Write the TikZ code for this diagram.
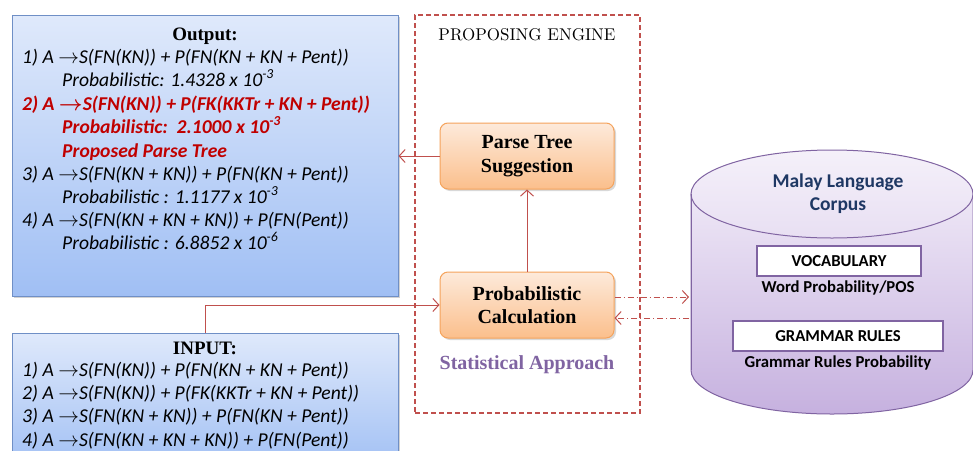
\documentclass[tikz,border=0pt]{standalone}
\usepackage{fontspec}
\setmainfont{lmroman10-regular.otf}[BoldFont=lmroman10-bold.otf, ItalicFont=lmroman10-italic.otf]
\newfontfamily\carlito{Carlito}
\newfontfamily\headserif{Liberation Serif}
\usetikzlibrary{arrows.meta,shadows}

\definecolor{boxblue}{HTML}{6F8FC6}
\definecolor{bluetop}{HTML}{DFE9FB}
\definecolor{bluebot}{HTML}{A0BFF4}
\definecolor{orgline}{HTML}{F5A35C}
\definecolor{orgtop}{HTML}{FDEADB}
\definecolor{orgbot}{HTML}{FBBF8C}
\definecolor{linkred}{HTML}{C0504D}
\definecolor{hotred}{HTML}{C00000}
\definecolor{violet}{HTML}{8064A2}
\definecolor{cyltop}{HTML}{EEE7F6}
\definecolor{cylbot}{HTML}{C6B1DF}
\definecolor{navy}{HTML}{1F3864}

\tikzset{
  listbox/.style={draw=boxblue, line width=1pt, top color=bluetop, bottom color=bluebot,
    minimum width=386pt, inner sep=0pt,
    drop shadow={opacity=0.35, shadow xshift=2pt, shadow yshift=-2pt}},
  stepbox/.style={draw=orgline, line width=1pt, rounded corners=8pt,
    top color=orgtop, bottom color=orgbot, minimum width=174pt, minimum height=66pt,
    align=center, font=\headserif\bfseries\fontsize{20}{23.5}\selectfont,
    drop shadow={opacity=0.3, shadow xshift=2pt, shadow yshift=-2pt}},
  ruleline/.style={anchor=base west, inner sep=0pt, text height=13pt, text depth=4pt,
    font=\carlito\itshape\fontsize{19.6}{22}\selectfont},
  boldrule/.style={ruleline, text=hotred, font=\carlito\itshape\bfseries\fontsize{19.6}{22}\selectfont},
  boxtitle/.style={inner sep=0pt, anchor=base, font=\headserif\bfseries\fontsize{19}{22}\selectfont},
  link/.style={draw=linkred, line width=1pt, -{Straight Barb[length=6pt,width=13pt]}},
  dashdot/.style={link, dash pattern=on 6pt off 3pt on 1pt off 3pt},
  tagbox/.style={draw=violet, line width=2pt, fill=white, inner sep=0pt,
    minimum height=30pt, font=\carlito\bfseries\fontsize{16.7}{18}\selectfont},
  tagnote/.style={inner sep=0pt, anchor=base, font=\carlito\bfseries\fontsize{16.7}{18}\selectfont},
}

\begin{document}
\begin{tikzpicture}[x=1pt, y=-1pt]
\useasboundingbox (0,0) rectangle (973,450);
\clip (0,0) rectangle (973,450);
\fill[white] (0,0) rectangle (973,450);

% proposing engine frame
\node[draw=linkred, line width=1.1pt, dash pattern=on 5pt off 3pt,
      minimum width=225pt, minimum height=398pt, inner sep=0pt] (engine) at (527.5,214) {};
\node[inner sep=0pt, anchor=base, font=\fontsize{17}{20}\selectfont] (enginetitle) at (527,40) {PROPOSING ENGINE};

% output list
\node[listbox, minimum height=281pt] (outbox) at (205,155.5) {};
\node[boxtitle] (outtitle) at (205,40) {Output:};
\node[ruleline] (o1) at (22,63) {1) A $\rightarrow$S(FN(KN)) + P(FN(KN + KN + Pent))};
\node[ruleline] (o1p) at (62,86) {Probabilistic: 1.4328 x 10\textsuperscript{-3}};
\node[boldrule] (o2) at (22,110) {2) A {\boldmath$\rightarrow$}S(FN(KN)) + P(FK(KKTr + KN + Pent))};
\node[boldrule] (o2p) at (62,133) {Probabilistic:\ \ 2.1000 x 10\textsuperscript{-3}};
\node[boldrule] (o2t) at (62,157) {Proposed Parse Tree};
\node[ruleline] (o3) at (22,180) {3) A $\rightarrow$S(FN(KN + KN)) + P(FN(KN + Pent))};
\node[ruleline] (o3p) at (62,203) {Probabilistic : 1.1177 x 10\textsuperscript{-3}};
\node[ruleline] (o4) at (22,226) {4) A $\rightarrow$S(FN(KN + KN + KN)) + P(FN(Pent))};
\node[ruleline] (o4p) at (62,249) {Probabilistic : 6.8852 x 10\textsuperscript{-6}};

% input list
\node[listbox, minimum height=137pt] (inbox) at (205,401.5) {};
\node[boxtitle] (intitle) at (205,354) {INPUT:};
\node[ruleline] (i1) at (22,376) {1) A $\rightarrow$S(FN(KN)) + P(FN(KN + KN + Pent))};
\node[ruleline] (i2) at (22,399) {2) A $\rightarrow$S(FN(KN)) + P(FK(KKTr + KN + Pent))};
\node[ruleline] (i3) at (22,422) {3) A $\rightarrow$S(FN(KN + KN)) + P(FN(KN + Pent))};
\node[ruleline] (i4) at (22,446) {4) A $\rightarrow$S(FN(KN + KN + KN)) + P(FN(Pent))};

% engine steps
\node[stepbox] (suggest) at (527,156) {Parse Tree\\Suggestion};
\node[stepbox] (calc) at (527,305) {Probabilistic\\Calculation};
\node[inner sep=0pt, anchor=base, text=violet, font=\headserif\bfseries\fontsize{20}{22}\selectfont] (approach) at (527,369) {Statistical Approach};

% corpus cylinder
\coordinate (cylc) at (832,194);
\shade[top color=cyltop, bottom color=cylbot, draw=violet, line width=1pt]
  (691,194) -- (691,370) arc[start angle=180, end angle=360, x radius=141pt, y radius=44pt]
  -- (973,194) -- cycle;
\shade[top color=cyltop!60!white, bottom color=cyltop!85!cylbot, draw=violet, line width=1pt]
  (cylc) ellipse[x radius=141pt, y radius=44pt];
\draw[violet, line width=1pt] (691,194) -- (691,370);
\node[inner sep=0pt, align=center, text=navy, font=\carlito\bfseries\fontsize{19.5}{23}\selectfont] (corpus) at (838,194) {Malay Language\\Corpus};
\node[tagbox, minimum width=164pt] (vocab) at (839,261) {VOCABULARY};
\node[tagnote] (vocabnote) at (838,292) {Word Probability/POS};
\node[tagbox, minimum width=210pt] (grammar) at (838,336) {GRAMMAR RULES};
\node[tagnote] (grammarnote) at (838,367) {Grammar Rules Probability};
\coordinate (corpusin) at (689,297);
\coordinate (corpusout) at (689,318);

% connectors
\draw[link] (suggest.west) -- (outbox.east |- suggest.west);
\draw[link] (calc.north) -- (suggest.south);
\draw[link] (inbox.north) |- (calc.west);
\draw[dashdot] (calc.east |- corpusin) -- (corpusin);
\draw[dashdot] (corpusout) -- (calc.east |- corpusout);
\end{tikzpicture}
\end{document}
